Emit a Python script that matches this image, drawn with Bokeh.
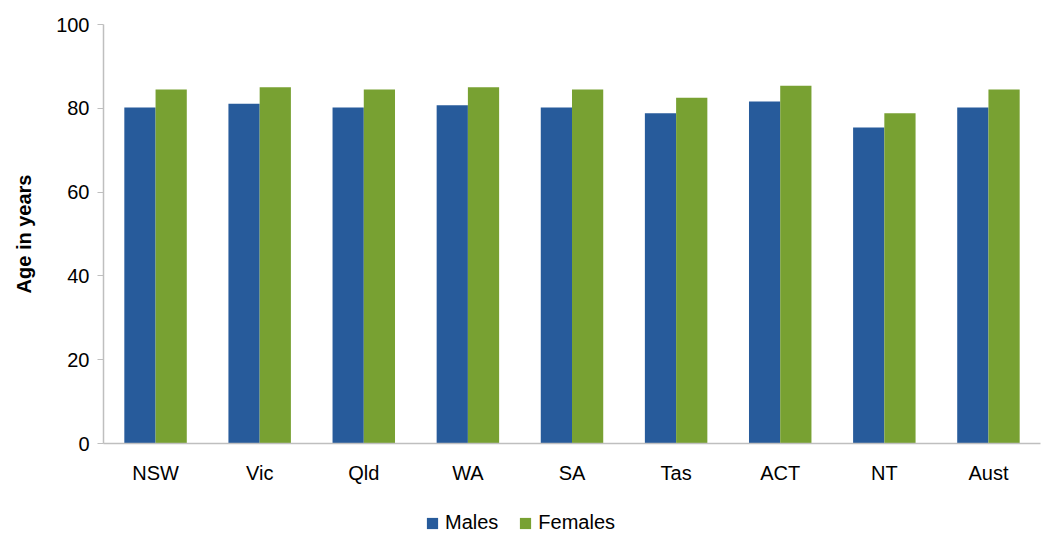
from bokeh.plotting import figure
from bokeh.layouts import column
from bokeh.models import ColumnDataSource, Legend, LegendItem, FactorRange, FixedTicker
from bokeh.transform import dodge
from bokeh.embed import file_html
from bokeh.resources import INLINE

categories = ["NSW", "Vic", "Qld", "WA", "SA", "Tas", "ACT", "NT", "Aust"]
males = [80.2, 81.1, 80.2, 80.7, 80.2, 78.8, 81.6, 75.4, 80.2]
females = [84.5, 85.0, 84.5, 85.0, 84.5, 82.5, 85.4, 78.8, 84.5]
y_ticks = [0, 20, 40, 60, 80, 100]
series_names = ["Males", "Females"]
series_colors = ["#275B9B", "#78A132"]

source = ColumnDataSource(dict(cat=categories, males=males, females=females))

FONT = "Liberation Sans"

p = figure(x_range=FactorRange(*categories), y_range=(0, 100),
           width=1042, height=500, output_backend="svg", toolbar_location=None,
           min_border_left=103, min_border_right=2, min_border_top=24, min_border_bottom=57)
p.outline_line_color = None
p.xgrid.grid_line_color = None
p.ygrid.grid_line_color = None

p.vbar(x=dodge("cat", -0.15, range=p.x_range), top="males", width=0.3, source=source,
       fill_color=series_colors[0], line_color=None)
p.vbar(x=dodge("cat", 0.15, range=p.x_range), top="females", width=0.3, source=source,
       fill_color=series_colors[1], line_color=None)

p.yaxis.ticker = FixedTicker(ticks=y_ticks)
p.yaxis.axis_label = "Age in years"
p.yaxis.axis_label_text_font = FONT
p.yaxis.axis_label_text_font_size = "20px"
p.yaxis.axis_label_text_font_style = "bold"
p.yaxis.axis_label_text_color = "#000000"
p.yaxis.axis_label_standoff = 18
p.yaxis.major_label_text_font = FONT
p.yaxis.major_label_text_font_size = "20px"
p.yaxis.major_label_text_color = "#000000"
p.yaxis.major_tick_out = 6
p.yaxis.major_tick_in = 0
p.yaxis.minor_tick_line_color = None
p.yaxis.major_tick_line_color = "#BFBFBF"
p.yaxis.axis_line_color = "#BFBFBF"
p.yaxis.axis_line_width = 1.5
p.yaxis.major_label_standoff = 8

p.xaxis.major_label_text_font = FONT
p.xaxis.major_label_text_font_size = "20px"
p.xaxis.major_label_text_color = "#000000"
p.xaxis.major_tick_line_color = None
p.xaxis.minor_tick_line_color = None
p.xaxis.axis_line_color = "#BFBFBF"
p.xaxis.axis_line_width = 1.5
p.xaxis.major_label_standoff = 12

# legend strip
q = figure(width=1042, height=34, x_range=(0, 1), y_range=(0, 1),
           x_axis_type=None, y_axis_type=None, output_backend="svg",
           toolbar_location=None, min_border=0)
q.outline_line_color = None
q.xgrid.grid_line_color = None
q.ygrid.grid_line_color = None
items = []
for name, col in zip(series_names, series_colors):
    r = q.vbar(x=[-10], top=[-10], bottom=[-11], width=0.1, fill_color=col, line_color=None)
    items.append(LegendItem(label=name, renderers=[r]))

legend = Legend(items=items, orientation="horizontal", location=(322, 0),
                label_text_font=FONT, label_text_font_size="20px",
                label_text_color="#000000",
                glyph_width=14, glyph_height=14, label_standoff=6, spacing=20,
                padding=0, margin=0, border_line_color=None, background_fill_alpha=0)
q.add_layout(legend, "center")

open("out.html", "w").write(file_html(column(p, q, spacing=0), INLINE))
